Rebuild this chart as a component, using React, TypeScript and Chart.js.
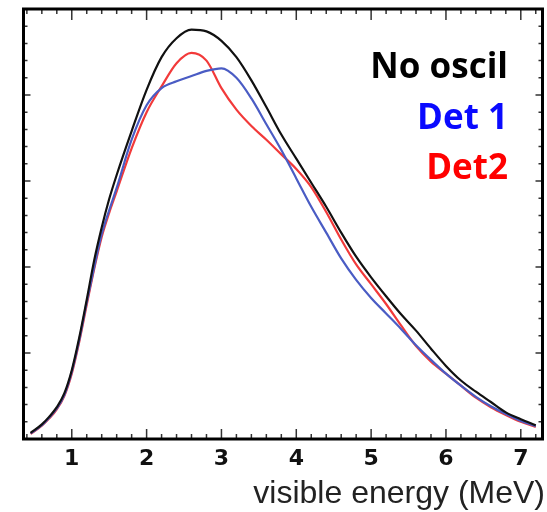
import React, { useEffect, useRef } from "react";
import { Chart, registerables } from "chart.js";

Chart.register(...registerables);

const energy = [0.45, 0.6, 0.7, 0.8, 0.9, 1.0, 1.1, 1.2, 1.3, 1.4, 1.5, 1.6, 1.8, 2.0, 2.2, 2.4, 2.6, 2.8, 3.0, 3.2, 3.4, 3.6, 3.8, 4.0, 4.2, 4.4, 4.6, 4.8, 5.0, 5.2, 5.4, 5.6, 5.8, 6.0, 6.2, 6.4, 6.6, 6.8, 7.0, 7.2];

const noOscil = [0.07, 0.17, 0.26, 0.37, 0.53, 0.8, 1.18, 1.62, 2.08, 2.46, 2.79, 3.07, 3.58, 4.06, 4.44, 4.66, 4.76, 4.74, 4.63, 4.44, 4.17, 3.86, 3.54, 3.26, 2.98, 2.7, 2.4, 2.12, 1.88, 1.66, 1.45, 1.26, 1.05, 0.85, 0.68, 0.55, 0.43, 0.31, 0.23, 0.16];

const det1 = [0.065, 0.16, 0.25, 0.355, 0.51, 0.78, 1.15, 1.59, 2.0, 2.38, 2.66, 2.92, 3.48, 3.88, 4.08, 4.16, 4.22, 4.28, 4.31, 4.2, 3.96, 3.66, 3.36, 3.03, 2.7, 2.4, 2.1, 1.85, 1.64, 1.46, 1.28, 1.09, 0.92, 0.76, 0.62, 0.49, 0.38, 0.29, 0.21, 0.15];

const det2 = [0.06, 0.155, 0.24, 0.345, 0.5, 0.76, 1.13, 1.56, 1.98, 2.35, 2.63, 2.88, 3.38, 3.8, 4.1, 4.37, 4.49, 4.4, 4.08, 3.83, 3.64, 3.48, 3.31, 3.14, 2.93, 2.64, 2.32, 2.03, 1.8, 1.57, 1.32, 1.08, 0.9, 0.76, 0.62, 0.48, 0.37, 0.28, 0.2, 0.14];

const xTickValues = [1, 2, 3, 4, 5, 6, 7];
const xTickLabels = ["1", "2", "3", "4", "5", "6", "7"];
const yMajorValues = [0, 1, 2, 3, 4, 5];
const xMinorStep = 0.2;
const yMinorStep = 0.2;

const seriesNames = ["No oscil", "Det 1", "Det2"];
const legendColors = ["#000000", "#0a0aff", "#ff0000"];
const lineColors = ["#111111", "#4a5cc4", "#f23a3a"];
const axisTitle = "visible energy (MeV)";

const xMin = 0.355;
const xMax = 7.29;
const yMin = 0;
const yMax = 5;

const framePlugin = {
  id: "framePlugin",
  afterDatasetsDraw(chart: any) {
    const ctx = chart.ctx;
    const area = chart.chartArea;
    const xs = chart.scales.x;
    const ys = chart.scales.y;
    ctx.save();
    ctx.strokeStyle = "#333333";
    ctx.lineWidth = 1.5;
    const drawX = (v: number, major: boolean) => {
      const px = xs.getPixelForValue(v);
      const lb = major ? 10 : 5;
      const lt = major ? 11 : 5;
      ctx.beginPath();
      ctx.moveTo(px, area.bottom);
      ctx.lineTo(px, area.bottom - lb);
      ctx.moveTo(px, area.top);
      ctx.lineTo(px, area.top + lt);
      ctx.stroke();
    };
    for (let v = Math.ceil(xMin / xMinorStep) * xMinorStep; v <= xMax + 1e-9; v += xMinorStep) {
      const r = Math.round(v * 10) / 10;
      const major = xTickValues.some((t) => Math.abs(t - r) < 1e-6);
      drawX(r, major);
    }
    const drawY = (v: number, major: boolean) => {
      const py = ys.getPixelForValue(v);
      const l = major ? 7 : 4;
      ctx.beginPath();
      ctx.moveTo(area.left, py);
      ctx.lineTo(area.left + l, py);
      ctx.moveTo(area.right, py);
      ctx.lineTo(area.right - l, py);
      ctx.stroke();
    };
    for (let v = yMin + yMinorStep; v < yMax - 1e-9; v += yMinorStep) {
      const r = Math.round(v * 10) / 10;
      const major = yMajorValues.some((t) => Math.abs(t - r) < 1e-6);
      drawY(r, major);
    }
    ctx.strokeStyle = "#000000";
    ctx.lineWidth = 3;
    ctx.strokeRect(area.left, area.top, area.right - area.left, area.bottom - area.top);
    ctx.fillStyle = "#111111";
    ctx.font = "bold 22px 'DejaVu Sans'";
    ctx.textAlign = "center";
    ctx.textBaseline = "middle";
    xTickValues.forEach((v, i) => {
      ctx.fillText(xTickLabels[i], xs.getPixelForValue(v), 459);
    });
    ctx.fillStyle = "#222222";
    ctx.font = "32px 'Liberation Sans'";
    ctx.textAlign = "right";
    ctx.textBaseline = "alphabetic";
    ctx.fillText(axisTitle, 545, 503);
    ctx.font = "bold 35px 'Open Sans'";
    ctx.textAlign = "right";
    const baselines = [78, 129, 179];
    seriesNames.forEach((n, i) => {
      ctx.fillStyle = legendColors[i];
      ctx.fillText(n, 508, baselines[i]);
    });
    ctx.restore();
  },
};

export default function App() {
  const ref = useRef<HTMLCanvasElement | null>(null);
  useEffect(() => {
    if (!ref.current) return;
    const mk = (vals: number[]) => energy.map((x, i) => ({ x, y: vals[i] }));
    const chart = new Chart(ref.current, {
      type: "line",
      data: {
        datasets: [
          { label: seriesNames[0], data: mk(noOscil), borderColor: lineColors[0], borderWidth: 2.2 },
          { label: seriesNames[1], data: mk(det1), borderColor: lineColors[1], borderWidth: 2.2 },
          { label: seriesNames[2], data: mk(det2), borderColor: lineColors[2], borderWidth: 2.2 },
        ],
      },
      options: {
        responsive: false,
        animation: false,
        devicePixelRatio: 1,
        layout: { padding: { left: 23.5, right: 4.5, top: 9, bottom: 73 } },
        elements: {
          point: { radius: 0 },
          line: { cubicInterpolationMode: "monotone", fill: false },
        },
        plugins: { legend: { display: false }, tooltip: { enabled: false } },
        scales: {
          x: { type: "linear", min: xMin, max: xMax, display: false },
          y: { type: "linear", min: yMin, max: yMax, display: false },
        },
      },
      plugins: [framePlugin],
    });
    return () => chart.destroy();
  }, []);
  return (
    <div style={{ position: "fixed", left: 0, top: 0, width: 547, height: 512, background: "#ffffff" }}>
      <canvas ref={ref} width={547} height={512} style={{ display: "block" }} />
    </div>
  );
}
